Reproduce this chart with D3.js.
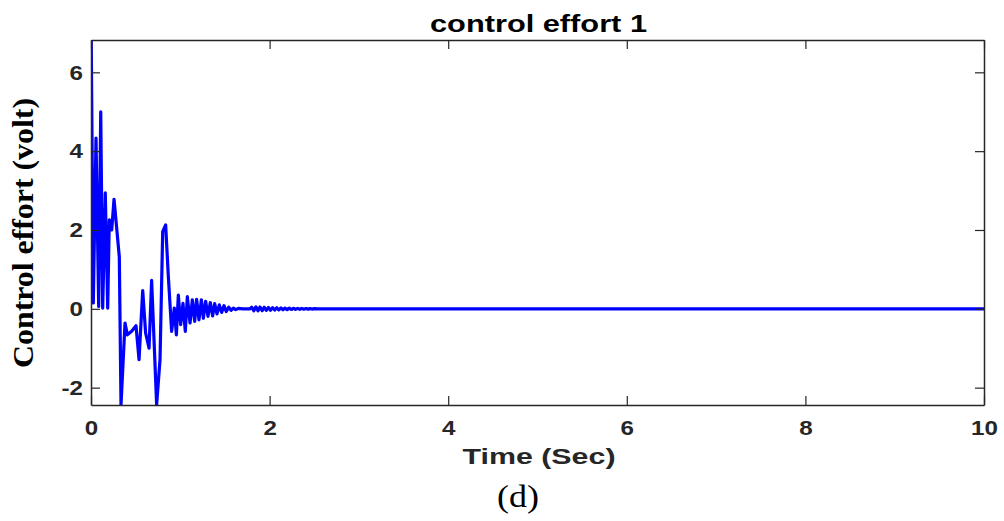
<!DOCTYPE html>
<html>
<head>
<meta charset="utf-8">
<script src="https://cdn.jsdelivr.net/npm/d3@7"></script>
<style>
  html, body { margin: 0; padding: 0; background: #fff; }
  svg { display: block; }
</style>
</head>
<body>
<svg id="chart" width="1004" height="521"></svg>
<script>
// Control effort of actuator 1 over the simulation time (seconds / volts)
const timeSec = [
  0.000, 0.026, 0.056, 0.086, 0.109, 0.131, 0.160, 0.187, 0.205, 0.232,
  0.258, 0.317, 0.336, 0.381, 0.407, 0.455, 0.504, 0.538, 0.579, 0.612,
  0.650, 0.679, 0.735, 0.773, 0.803, 0.836, 0.866, 0.903, 0.933, 0.956,
  0.978, 1.004, 1.030, 1.056, 1.079, 1.109, 1.135, 1.161, 1.183, 1.209,
  1.236, 1.258, 1.284, 1.310, 1.336, 1.362, 1.385, 1.411, 1.437, 1.463,
  1.489, 1.515, 1.542, 1.568, 1.594, 1.620, 1.650, 1.700, 1.780, 1.800,
  1.823, 1.847, 1.870, 1.893, 1.917, 1.940, 1.963, 1.987, 2.010, 2.033,
  2.057, 2.080, 2.103, 2.127, 2.150, 2.173, 2.197, 2.220, 2.243, 2.267,
  2.290, 2.313, 2.337, 2.360, 2.383, 2.407, 2.430, 2.453, 2.477, 2.500,
  2.550, 10.000
];
const effortVolt = [
  7.60, 0.15, 4.33, 0.06, 5.00, 0.02, 2.94, 0.02, 2.26, 2.00,
  2.78, 1.32, -2.43, -0.36, -0.66, -0.57, -0.43, -1.29, 0.46, -0.62,
  -1.00, 0.72, -2.43, -1.29, 1.96, 2.13, 0.82, -0.57, 0.02, -0.66,
  0.35, -0.40, 0.14, -0.57, 0.31, -0.36, 0.23, -0.32, 0.24, -0.28,
  0.23, -0.24, 0.19, -0.19, 0.16, -0.18, 0.13, -0.13, 0.10, -0.09,
  0.08, -0.07, 0.04, -0.04, 0.02, -0.02, 0.01, 0.00, 0.00, 0.04,
  -0.05, 0.05, -0.05, 0.045, -0.045, 0.04, -0.04, 0.035, -0.035, 0.03,
  -0.03, 0.027, -0.027, 0.024, -0.024, 0.02, -0.02, 0.017, -0.017, 0.014,
  -0.014, 0.012, -0.012, 0.01, -0.01, 0.008, -0.008, 0.006, -0.006, 0.004,
  0.00, 0.00
];
const xTicks = [0, 2, 4, 6, 8, 10];
const yTicks = [-2, 0, 2, 4, 6];

const titleText = "control effort 1";
const xLabelText = "Time (Sec)";
const yLabelText = "Control effort (volt)";
const panelText = "(d)";

const svg = d3.select("#chart");
const plot = { left: 91, right: 984, top: 40, bottom: 405 };
const axisColor = "#262626";

const x = d3.scaleLinear().domain([0, 10]).range([plot.left, plot.right]);
const y = d3.scaleLinear().domain([-2.44, 6.82]).range([plot.bottom, plot.top]);

svg.append("defs").append("clipPath").attr("id", "plotClip")
  .append("rect")
  .attr("x", plot.left).attr("y", plot.top)
  .attr("width", plot.right - plot.left).attr("height", plot.bottom - plot.top);

// signal trace
const series = timeSec.map((t, i) => [t, effortVolt[i]]);
svg.append("path")
  .datum(series)
  .attr("clip-path", "url(#plotClip)")
  .attr("fill", "none")
  .attr("stroke", "#0000ff")
  .attr("stroke-width", 3.2)
  .attr("stroke-linejoin", "round")
  .attr("d", d3.line().x(d => x(d[0])).y(d => y(d[1])));

// axes with inward ticks on all four sides
const tickLen = 9;
const plainNumber = d => String(d);
function styleAxis(g) {
  g.selectAll(".domain").attr("stroke", axisColor).attr("stroke-width", 1.5);
  g.selectAll(".tick line").attr("stroke", axisColor).attr("stroke-width", 1.2);
  g.selectAll("text")
    .attr("fill", axisColor)
    .attr("font-family", "'Liberation Sans', Arial, sans-serif")
    .attr("font-weight", "bold")
    .attr("font-size", 21);
}

const gx = svg.append("g")
  .attr("transform", `translate(0,${plot.bottom})`)
  .call(d3.axisBottom(x).tickValues(xTicks).tickFormat(plainNumber)
    .tickSizeInner(-tickLen).tickSizeOuter(0).tickPadding(15.5));
styleAxis(gx);
gx.selectAll("text").attr("transform", "scale(1.15,1)");

const gy = svg.append("g")
  .attr("transform", `translate(${plot.left},0)`)
  .call(d3.axisLeft(y).tickValues(yTicks).tickFormat(plainNumber)
    .tickSizeInner(-tickLen).tickSizeOuter(0).tickPadding(7));
styleAxis(gy);
gy.selectAll("text").attr("transform", "scale(1.15,1)");

const gxTop = svg.append("g")
  .attr("transform", `translate(0,${plot.top})`)
  .call(d3.axisTop(x).tickValues(xTicks).tickFormat("")
    .tickSizeInner(-tickLen).tickSizeOuter(0));
styleAxis(gxTop);

const gyRight = svg.append("g")
  .attr("transform", `translate(${plot.right},0)`)
  .call(d3.axisRight(y).tickValues(yTicks).tickFormat("")
    .tickSizeInner(-tickLen).tickSizeOuter(0));
styleAxis(gyRight);

// titles and labels
svg.append("text")
  .attr("x", 538.5).attr("y", 31.7)
  .attr("text-anchor", "middle")
  .attr("font-family", "'Liberation Sans', Arial, sans-serif")
  .attr("font-weight", "bold").attr("font-size", 24)
  .attr("fill", "#000")
  .attr("textLength", 217).attr("lengthAdjust", "spacingAndGlyphs")
  .text(titleText);

svg.append("text")
  .attr("x", 539).attr("y", 464)
  .attr("text-anchor", "middle")
  .attr("font-family", "'Liberation Sans', Arial, sans-serif")
  .attr("font-weight", "bold").attr("font-size", 22)
  .attr("fill", axisColor)
  .attr("textLength", 153).attr("lengthAdjust", "spacingAndGlyphs")
  .text(xLabelText);

svg.append("text")
  .attr("transform", "translate(33,233) rotate(-90)")
  .attr("text-anchor", "middle")
  .attr("font-family", "'Liberation Serif', 'Times New Roman', serif")
  .attr("font-weight", "bold").attr("font-size", 30)
  .attr("fill", "#000")
  .attr("textLength", 270).attr("lengthAdjust", "spacingAndGlyphs")
  .text(yLabelText);

svg.append("text")
  .attr("x", 518).attr("y", 507)
  .attr("text-anchor", "middle")
  .attr("font-family", "'Liberation Serif', 'Times New Roman', serif")
  .attr("font-size", 32)
  .attr("fill", "#000")
  .attr("textLength", 42).attr("lengthAdjust", "spacingAndGlyphs")
  .text(panelText);
</script>
</body>
</html>
